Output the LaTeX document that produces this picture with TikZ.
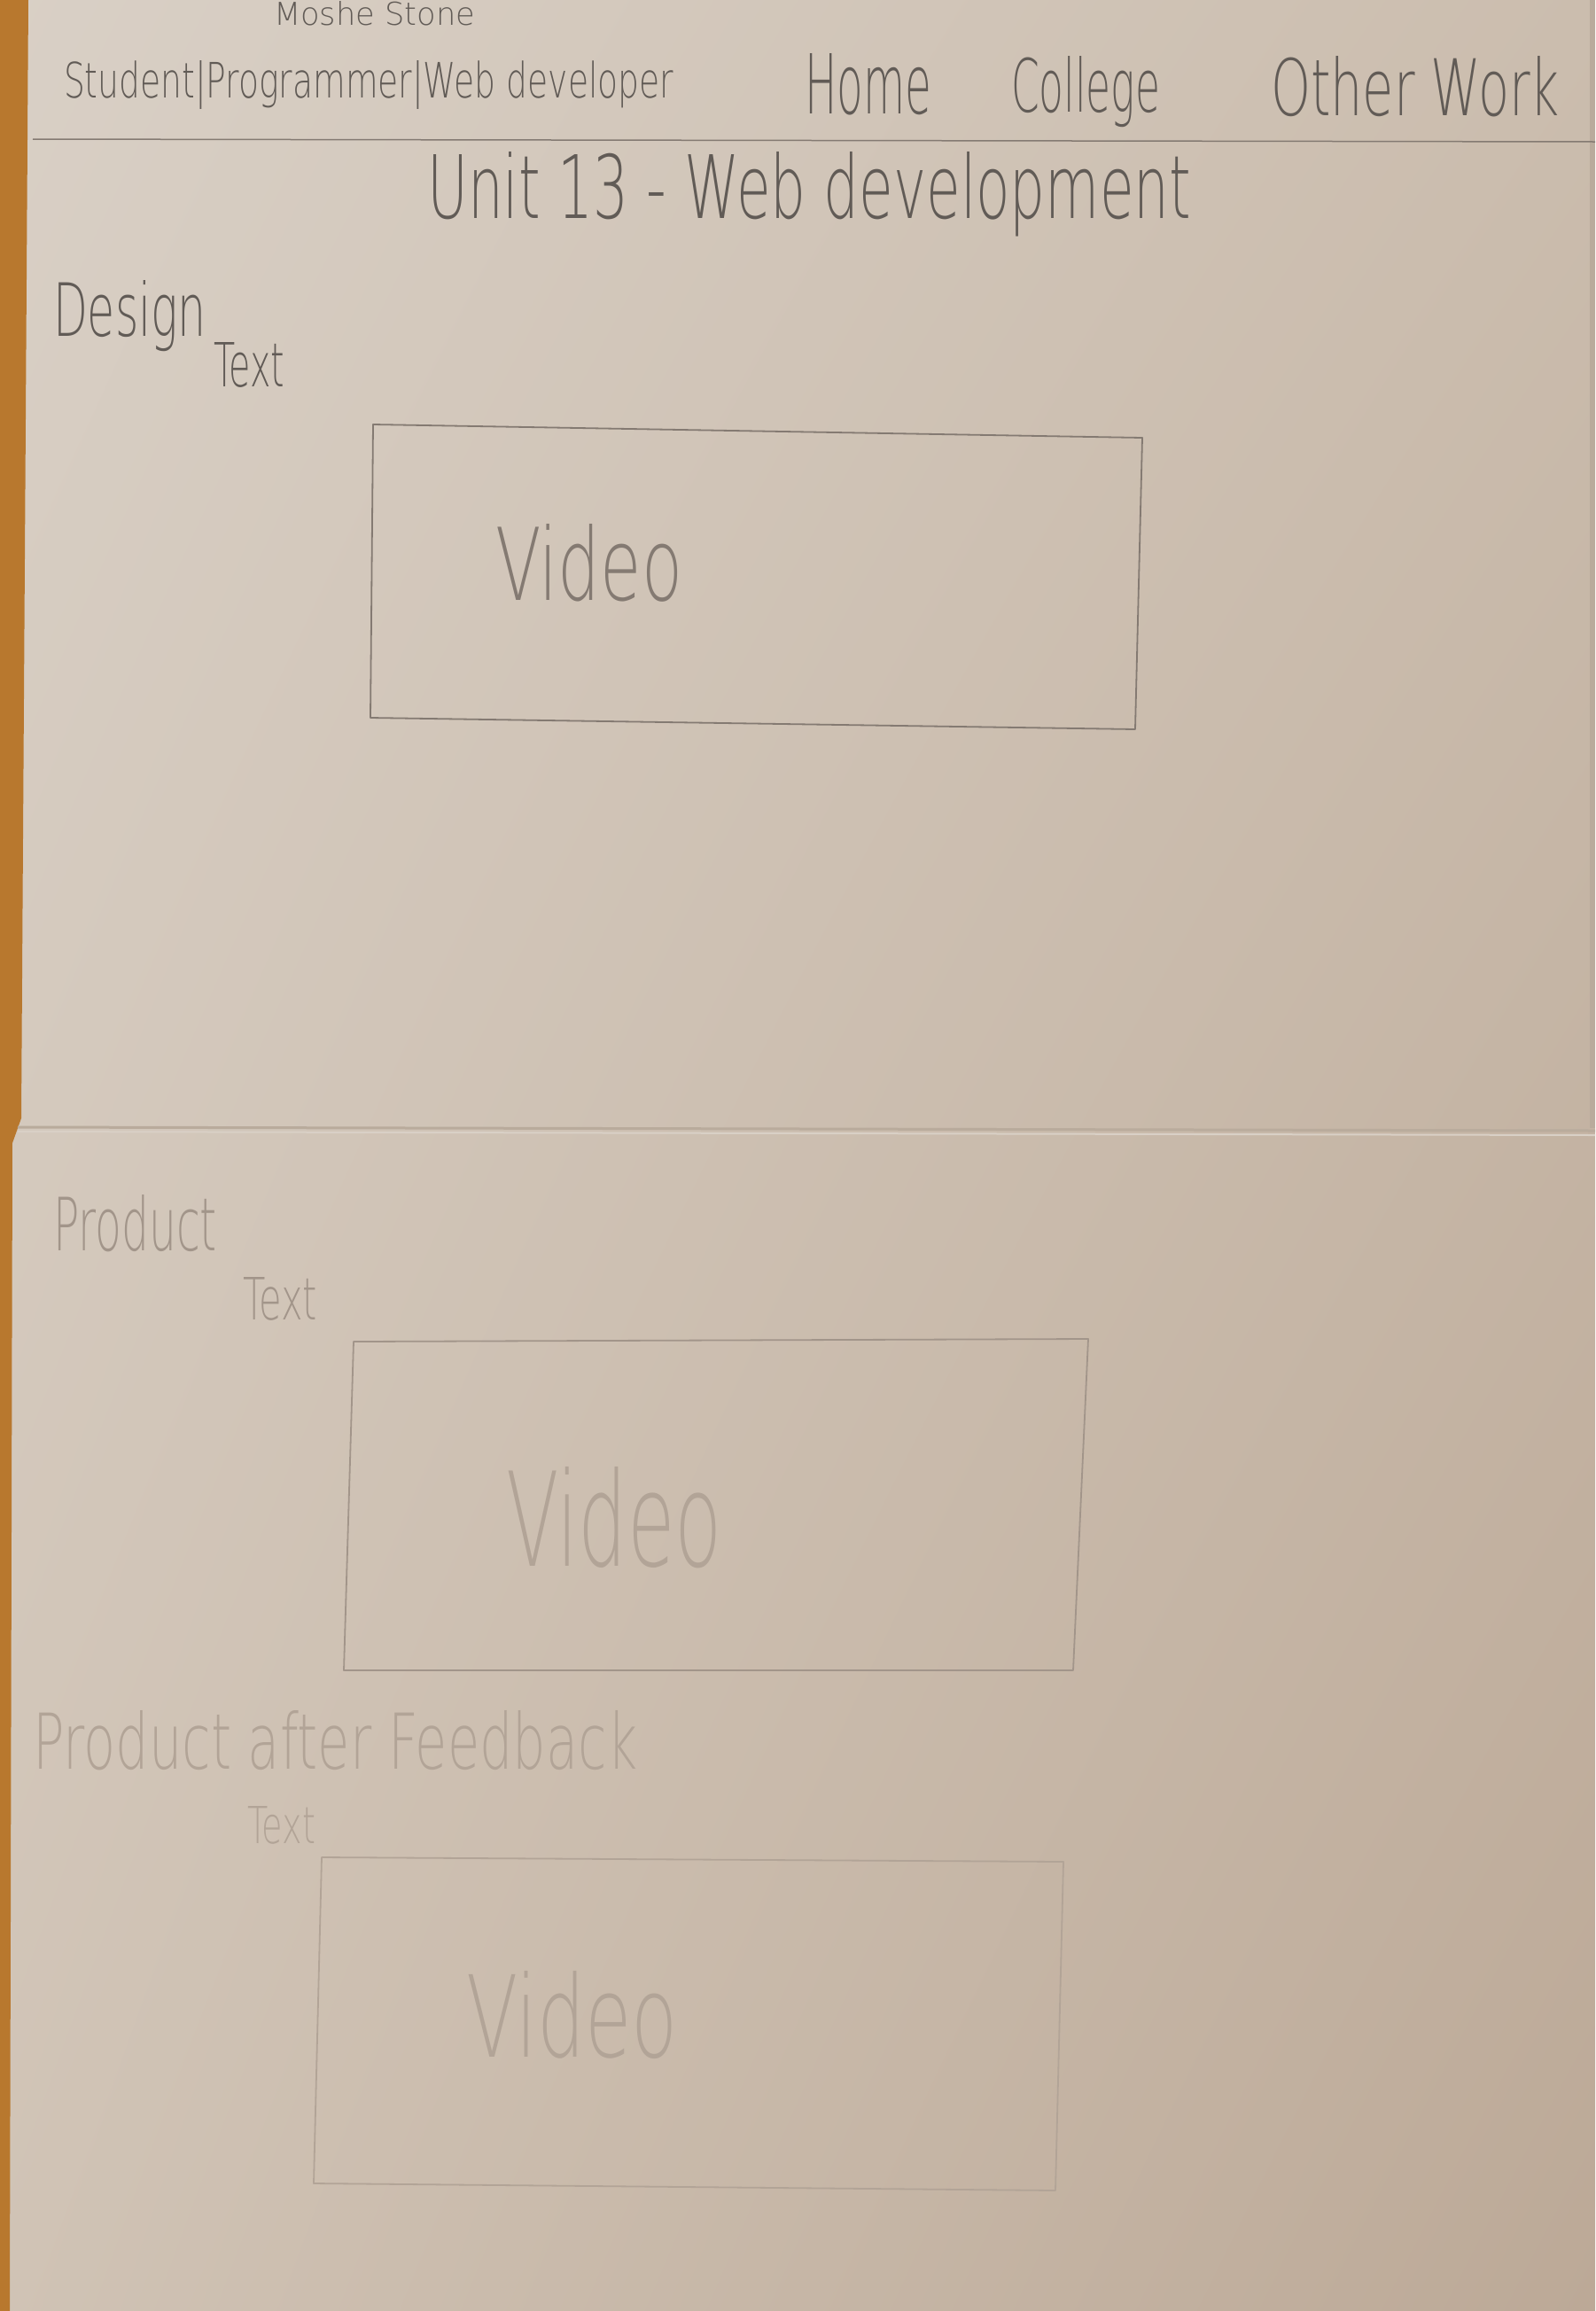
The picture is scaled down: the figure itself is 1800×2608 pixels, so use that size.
\documentclass[tikz,border=0pt]{standalone}
\usepackage{fontspec}
\usepackage{graphicx}
\usetikzlibrary{shadings}
\newfontfamily\handfont{DejaVu Sans ExtraLight}

% paper, desk and pencil tones
\definecolor{paperUL}{HTML}{D9D0C6}
\definecolor{paperUR}{HTML}{CBBDAE}
\definecolor{paperLL}{HTML}{D0C3B5}
\definecolor{paperLR}{HTML}{BCA997}
\definecolor{desk}{HTML}{B8782E}
\definecolor{foldshade}{HTML}{B9AB9C}
\definecolor{pencilDark}{HTML}{615B56}
\definecolor{pencilMid}{HTML}{847A72}
\definecolor{pencilLight}{HTML}{A2958A}
\definecolor{pencilFaint}{HTML}{B2A497}

\tikzset{
  hand/.style={inner sep=0pt, outer sep=0pt, anchor=base west, font=\handfont},
  sketch/.style={line width=1.8pt, line join=round, line cap=round},
}
% text stretched into a given width and height (pt)
\newcommand\hw[3]{\resizebox{#1pt}{#2pt}{#3}}

\begin{document}
\begin{tikzpicture}[x=1pt,y=-1pt]
\useasboundingbox (0,0) rectangle (1800,2608);

% sheet of paper
\shade[upper left=paperUL, upper right=paperUR, lower left=paperLL, lower right=paperLR]
  (0,0) rectangle (1800,2608);
% desk showing at the left edge
\fill[desk] (0,0) -- (32,0) -- (24,1262) -- (14,1290) -- (11,2608) -- (0,2608) -- cycle;
% right edge of the upper sheet
\fill[foldshade] (1794,0) rectangle (1800,1273);
% fold between the two sheets
\draw[foldshade, line width=3pt] (20,1272) -- (1800,1276);
\draw[paperUL, line width=2pt] (20,1277) -- (1800,1281);

% header
\node[hand, text=pencilDark] (name) at (309,28) {\hw{227}{27}{Moshe Stone}};
\node[hand, text=pencilDark] (tagline) at (72,110) {\hw{688}{42}{Student|Programmer|Web developer}};
\node[hand, text=pencilDark] (home) at (908,128) {\hw{143}{68}{Home}};
\node[hand, text=pencilDark] (college) at (1141,126) {\hw{168}{63}{College}};
\node[hand, text=pencilDark] (other) at (1434,130) {\hw{326}{67}{Other Work}};
\coordinate (rule-l) at (37,157);
\coordinate (rule-r) at (1800,160);
\draw[pencilMid, line width=1.5pt] (rule-l) -- (rule-r);
\node[hand, text=pencilDark] (title) at (482,246) {\hw{862}{75}{Unit 13 - Web development}};

% design section
\node[hand, text=pencilDark] (design) at (60,379) {\hw{173}{63}{Design}};
\node[hand, text=pencilDark] (designtext) at (241,436) {\hw{80}{50}{Text}};
\coordinate (b1a) at (421,479);
\coordinate (b1b) at (1289,494);
\coordinate (b1c) at (1281,823);
\coordinate (b1d) at (418,810);
\draw[sketch, pencilMid] (b1a) -- (b1b) -- (b1c) -- (b1d) -- cycle;
\node[hand, text=pencilMid] (video1) at (559,677) {\hw{211}{86}{Video}};

% product section
\node[hand, text=pencilLight] (product) at (60,1411) {\hw{185}{63}{Product}};
\node[hand, text=pencilLight] (producttext) at (274,1489) {\hw{84}{48}{Text}};
\coordinate (b2a) at (399,1514);
\coordinate (b2b) at (1228,1511);
\coordinate (b2c) at (1211,1885);
\coordinate (b2d) at (388,1885);
\draw[sketch, pencilLight] (b2a) -- (b2b) -- (b2c) -- (b2d) -- cycle;
\node[hand, text=pencilFaint] (video2) at (571,1767) {\hw{244}{112}{Video}};

% product after feedback section
\node[hand, text=pencilFaint] (feedback) at (37,1996) {\hw{682}{66}{Product after Feedback}};
\node[hand, text=pencilFaint] (feedbacktext) at (279,2080) {\hw{77}{42}{Text}};
\coordinate (b3a) at (363,2096);
\coordinate (b3b) at (1200,2101);
\coordinate (b3c) at (1191,2472);
\coordinate (b3d) at (354,2464);
\draw[sketch, pencilFaint] (b3a) -- (b3b) -- (b3c) -- (b3d) -- cycle;
\node[hand, text=pencilFaint] (video3) at (526,2321) {\hw{239}{97}{Video}};
\end{tikzpicture}
\end{document}
